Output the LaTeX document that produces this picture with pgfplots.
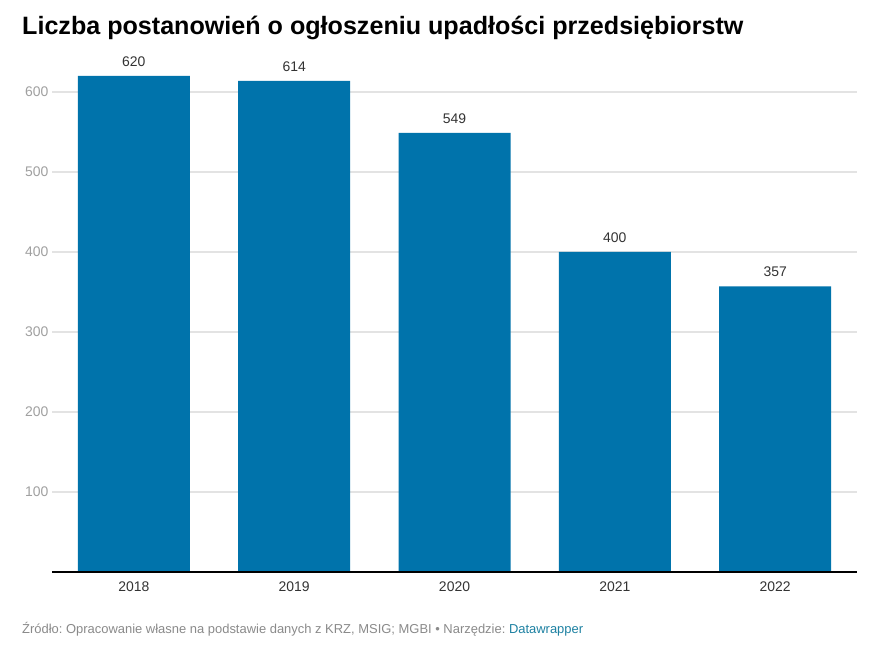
\documentclass[border=0pt]{standalone}
\usepackage{fontspec}
\setmainfont{Liberation Sans}
\usepackage{pgfplots}
\pgfplotsset{compat=1.18}
\definecolor{barblue}{HTML}{0073AB}
\definecolor{gridgray}{HTML}{E3E3E3}
\definecolor{ticktext}{HTML}{A0A0A0}
\definecolor{labeltext}{HTML}{333333}
\definecolor{foot}{HTML}{8A8A8A}
\definecolor{dwblue}{HTML}{1D81A2}
\begin{document}
\frenchspacing
\begin{tikzpicture}[x=1bp,y=1bp]
\useasboundingbox[fill=white] (0,0) rectangle (884,648);
\node[anchor=base west, inner sep=0, font=\bfseries\fontsize{25.2}{29}\selectfont] at (22,613) {Liczba postanowień o ogłoszeniu upadłości przedsiębiorstw};
\begin{axis}[
    at={(52bp,76bp)}, anchor=south west,
    scale only axis, width=805bp, height=520bp,
    xmin=-0.51, xmax=4.51, ymin=0, ymax=650,
    axis line style={draw=none},
    ymajorgrids, grid style={gridgray, line width=1.2pt},
    ytick={100,200,300,400,500,600},
    xtick={0,1,2,3,4}, xticklabels={2018,2019,2020,2021,2022},
    major tick length=0pt,
    yticklabel style={font=\fontsize{14}{16}\selectfont, text=ticktext, xshift=0bp},
    xticklabel style={font=\fontsize{14}{16}\selectfont, text=labeltext, yshift=-6bp},
    /pgf/number format/assume math mode=true,
    clip=false,
]
\addplot[ybar, bar width=112bp, fill=barblue, draw=none,
    nodes near coords, nodes near coords style={font=\fontsize{14}{16}\selectfont, text=labeltext, yshift=6bp}]
    coordinates {(0,620) (1,614) (2,549) (3,400) (4,357)};
\draw[black, line width=1.5pt] (axis cs:-0.51,0) -- (axis cs:4.51,0);
\end{axis}
\node[anchor=base west, inner sep=0, font=\fontsize{13}{15}\selectfont, text=foot] at (22,14) {Źródło: Opracowanie własne na podstawie danych z KRZ, MSIG; MGBI • Narzędzie: \textcolor{dwblue}{Datawrapper}};
\end{tikzpicture}
\end{document}
